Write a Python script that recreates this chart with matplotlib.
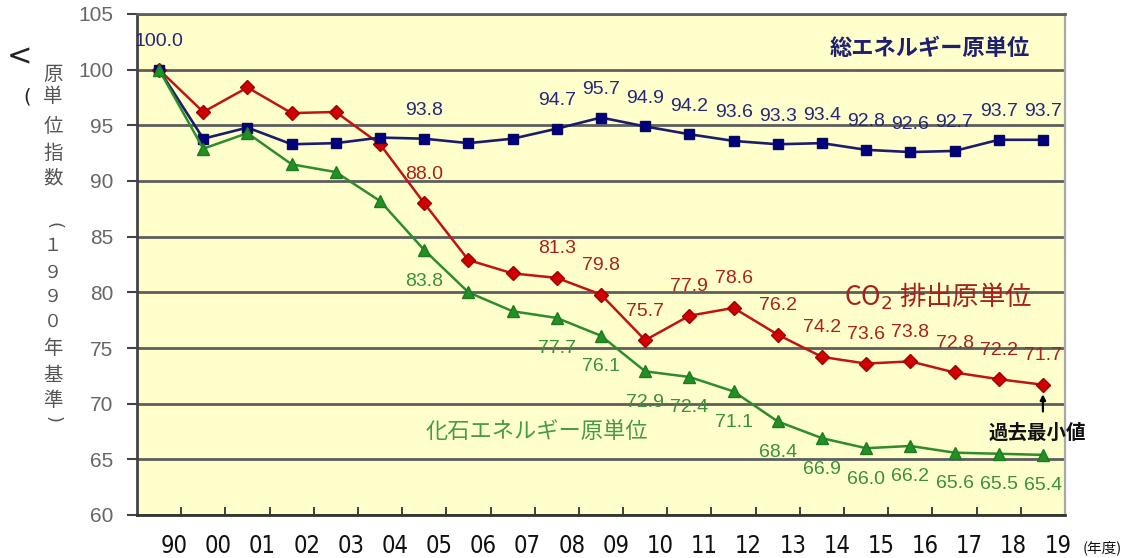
import matplotlib
matplotlib.use("Agg")
import matplotlib.pyplot as plt
from matplotlib import font_manager
from matplotlib.transforms import ScaledTranslation
import numpy as np

# ---- data -------------------------------------------------------------
years = ["90", "00", "01", "02", "03", "04", "05", "06", "07", "08", "09",
         "10", "11", "12", "13", "14", "15", "16", "17", "18", "19"]

total_energy = [100.0, 93.8, 94.8, 93.3, 93.4, 93.9, 93.8, 93.4, 93.8, 94.7, 95.7,
                94.9, 94.2, 93.6, 93.3, 93.4, 92.8, 92.6, 92.7, 93.7, 93.7]
co2_emission = [100.0, 96.2, 98.4, 96.1, 96.2, 93.3, 88.0, 82.9, 81.7, 81.3, 79.8,
                75.7, 77.9, 78.6, 76.2, 74.2, 73.6, 73.8, 72.8, 72.2, 71.7]
fossil_energy = [100.0, 92.9, 94.3, 91.5, 90.8, 88.2, 83.8, 80.0, 78.3, 77.7, 76.1,
                 72.9, 72.4, 71.1, 68.4, 66.9, 66.0, 66.2, 65.6, 65.5, 65.4]

labelled_years = ["05", "08", "09", "10", "11", "12", "13", "14", "15", "16",
                  "17", "18", "19"]

y_ticks = [60, 65, 70, 75, 80, 85, 90, 95, 100, 105]

name_total = "総エネルギー原単位"
name_co2 = r"CO$_2$ 排出原単位"
name_fossil = "化石エネルギー原単位"
note_min = "過去最小値"
ylabel_top = "原単位指数"
ylabel_bottom = "(１９９０年基準)"
unit_text = "(年度)"

# ---- fonts ------------------------------------------------------------
JP = ["Noto Sans CJK JP", "DejaVu Sans"]
NUM = "Liberation Sans"
installed = {f.name for f in font_manager.fontManager.ttflist}
if "Liberation Sans Narrow" in installed:
    narrow = dict(family="Liberation Sans Narrow")
else:
    narrow = dict(family="DejaVu Sans", stretch="condensed")

W, H, DPI = 1133, 558, 100
fig = plt.figure(figsize=(W / DPI, H / DPI), dpi=DPI)
fig.patch.set_facecolor("white")

left, right, top, bottom = 137, 1065, 14, 515
ax = fig.add_axes([left / W, 1 - bottom / H, (right - left) / W, (bottom - top) / H])
ax.set_facecolor("#FFFFCC")

x = np.arange(len(years))

# ---- lines ------------------------------------------------------------
ax.plot(x, co2_emission, color="#C01414", lw=1.8, marker="D", ms=7.5,
        mfc="#D00000", mec="#A00000", mew=1.0, zorder=3)
ax.plot(x, total_energy, color="#1C1C6C", lw=1.9, marker="s", ms=7.5,
        mfc="#00007E", mec="#0A0A5A", mew=1.0, zorder=4)
ax.plot(x, fossil_energy, color="#2E8B2E", lw=1.8, marker="^", ms=8,
        mfc="#239023", mec="#1E7A1E", mew=1.0, zorder=5)

# ---- data labels ------------------------------------------------------
def put_labels(values, idx, dy, color):
    for i in idx:
        ax.annotate(f"{values[i]:.1f}", (x[i], values[i]), xytext=(0, dy),
                    textcoords="offset pixels", ha="center", va="center",
                    fontsize=14, family=NUM, color=color, zorder=6)

label_idx = [years.index(y) for y in labelled_years]
put_labels(total_energy, [0] + label_idx, 28, "#26267A")
put_labels(co2_emission, label_idx, 29, "#A82020")
put_labels(fossil_energy, label_idx, -31, "#3A903A")

# ---- series names -----------------------------------------------------
ax.text(0.8545, 0.932, name_total, transform=ax.transAxes, ha="center",
        va="center", fontsize=16, family=JP, fontweight="bold", color="#1F1F70")
ax.text(0.863, 0.437, name_co2, transform=ax.transAxes, ha="center",
        va="center", fontsize=19, family=JP, color="#A82020")
ax.text(0.431, 0.1657, name_fossil, transform=ax.transAxes, ha="center",
        va="center", fontsize=16, family=JP, color="#479A47")

# minimum note with arrow
ax.annotate("", xy=(x[-1], 70.85), xytext=(x[-1], 69.3),
            arrowprops=dict(arrowstyle="-|>", color="black", lw=1.6,
                            mutation_scale=8, shrinkA=0, shrinkB=0),
            annotation_clip=False, zorder=6)
ax.text(0.970, 0.1637, note_min, transform=ax.transAxes, ha="center",
        va="center", fontsize=14, family=JP, fontweight="bold", color="#111111",
        clip_on=False, zorder=7)

# ---- axes -------------------------------------------------------------
ax.set_xlim(-0.5, len(years) - 0.5)
ax.set_ylim(60, 105)
ax.set_yticks(y_ticks)
ax.set_yticklabels([str(v) for v in y_ticks], family=NUM, fontsize=15,
                   color="#666666")
ax.tick_params(axis="y", direction="out", length=7, width=1.5, color="#444444",
               pad=10)
ax.yaxis.grid(True, color="#5E5E5E", lw=2.0)
ax.set_axisbelow(True)

ax.set_xticks(x)
ax.set_xticklabels(years, fontsize=17, color="#111111", **narrow)
ax.tick_params(axis="x", which="major", length=0, pad=14)
ax.set_xticks(np.arange(0.5, len(years) - 0.5, 1), minor=True)
ax.tick_params(axis="x", which="minor", direction="in", length=6, width=1.3,
               color="#333333")
shift = ScaledTranslation(15 / DPI, 0, fig.dpi_scale_trans)
for lab in ax.get_xticklabels():
    lab.set_transform(lab.get_transform() + shift)

for side, col, lw in [("left", "#444444", 2.0), ("bottom", "#333333", 2.0),
                      ("top", "#5E5E5E", 2.0), ("right", "#A8A8A8", 1.6)]:
    ax.spines[side].set_color(col)
    ax.spines[side].set_linewidth(lw)

# ---- figure-level texts -----------------------------------------------
fig.text(1102 / W, 1 - 548 / H, unit_text, ha="center", va="center",
         fontsize=10.5, family=JP, color="#111111")

# vertical (stacked) y-axis title
top_y = [75, 97, 127, 153, 178]
for ch, yy in zip(ylabel_top, top_y):
    fig.text(53 / W, 1 - yy / H, ch, ha="center", va="center", fontsize=14,
             family=JP, color="#555555")
bottom_y = [225, 246, 273, 297, 322, 348, 375, 400, 419]
for ch, yy in zip(ylabel_bottom, bottom_y):
    if ch in "()":
        # brackets turned sideways for vertical writing
        fig.text(53 / W, 1 - yy / H, ch, ha="center", va="center",
                 fontsize=13, family="DejaVu Sans", color="#555555",
                 rotation=-90)
    else:
        fig.text(53 / W, 1 - yy / H, ch, ha="center", va="center",
                 fontsize=13 if ch in "１９０" else 14, family=JP,
                 color="#555555")

fig.text(19 / W, 1 - 57 / H, "<", ha="center", va="center", fontsize=22,
         family="DejaVu Sans", color="#222222")
fig.text(27 / W, 1 - 97 / H, "(", ha="center", va="center", fontsize=14,
         family="DejaVu Sans", color="#222222")

fig.savefig("out.png", dpi=DPI, facecolor="white")
